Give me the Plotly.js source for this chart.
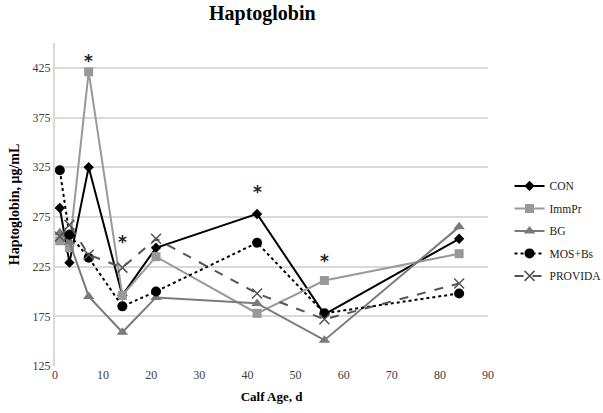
<!DOCTYPE html>
<html><head><meta charset="utf-8">
<script src="https://cdn.plot.ly/plotly-3.0.1.min.js"></script>
<style>body{margin:0;background:#fff}#c{width:603px;height:413px}</style>
</head><body><div id="c"></div>
<script>
const days = [1, 3, 7, 14, 21, 42, 56, 84];
const CON = [284, 229, 325, 196, 244, 278, 177, 253];
const ImmPr = [251, 244, 421, 196, 235, 178, 211, 238];
const BG = [259, 250, 195, 159, 194, 188, 151, 265];
const MOSBs = [322, 257, 234, 185, 200, 249, 178, 198];
const PROVIDA = [255, 267, 237, 224, 253, 198, 172, 208];
const seriesNames = ['CON', 'ImmPr', 'BG', 'MOS+Bs', 'PROVIDA'];
const starX = [7, 14, 42, 56];
const starY = [432, 250, 300, 231];
const yTicks = [125, 175, 225, 275, 325, 375, 425];
const xTicks = [0, 10, 20, 30, 40, 50, 60, 70, 80, 90];

const F = 'Liberation Serif, DejaVu Serif, serif';
const traces = [
  {y: CON, line: {color: '#000', width: 2}, marker: {symbol: 'diamond', size: 8, color: '#000'}},
  {y: ImmPr, line: {color: '#999', width: 2}, marker: {symbol: 'square', size: 9, color: '#999'}},
  {y: BG, line: {color: '#7a7a7a', width: 2}, marker: {symbol: 'triangle-up', size: 10, color: '#7a7a7a'}},
  {y: MOSBs, line: {color: '#000', width: 2, dash: 'dot'}, marker: {symbol: 'circle', size: 10, color: '#000'}},
  {y: PROVIDA, line: {color: '#555', width: 2, dash: 'dash'}, marker: {symbol: 'x-thin-open', size: 10, color: '#555', line: {width: 1.5, color: '#555'}}}
].map((t, i) => Object.assign({x: days, type: 'scatter', mode: 'lines+markers', name: seriesNames[i], legendgroup: 'g' + i}, t));

const annotations = starX.map((x, i) => ({x: x, y: starY[i], xref: 'x', yref: 'y', text: '<b>*</b>', showarrow: false,
  font: {family: 'DejaVu Sans, sans-serif', size: 17, color: '#222'}}));

Plotly.newPlot('c', traces, {
  width: 603, height: 413,
  margin: {l: 55, r: 115, t: 43, b: 47},
  paper_bgcolor: '#fff', plot_bgcolor: '#fff',
  title: {text: '<b>Haptoglobin</b>', font: {family: F, size: 20, color: '#000'}, x: 0.435, xanchor: 'center', y: 0.985},
  font: {family: F, size: 12, color: '#404040'},
  annotations: annotations,
  xaxis: {range: [0, 90], tickvals: xTicks, showgrid: false, zeroline: false, showline: false, ticks: '',
    title: {text: '<b>Calf Age, d</b>', font: {family: F, size: 13, color: '#000'}, standoff: 10}},
  yaxis: {range: [125, 450], tickvals: yTicks, showgrid: true, gridcolor: '#d9d9d9', gridwidth: 2, zeroline: false,
    showline: true, linecolor: '#d9d9d9', linewidth: 2, ticks: '',
    title: {text: '<b>Haptoglobin, μg/mL</b>', font: {family: F, size: 14, color: '#000'}, standoff: 10}},
  legend: {xref: 'container', yref: 'container', x: 0.845, y: 0.585, xanchor: 'left', yanchor: 'top',
    font: {family: F, size: 11.5, color: '#222'}, tracegroupgap: 3.5, itemwidth: 30},
  showlegend: true
}, {staticPlot: true});
</script></body></html>
